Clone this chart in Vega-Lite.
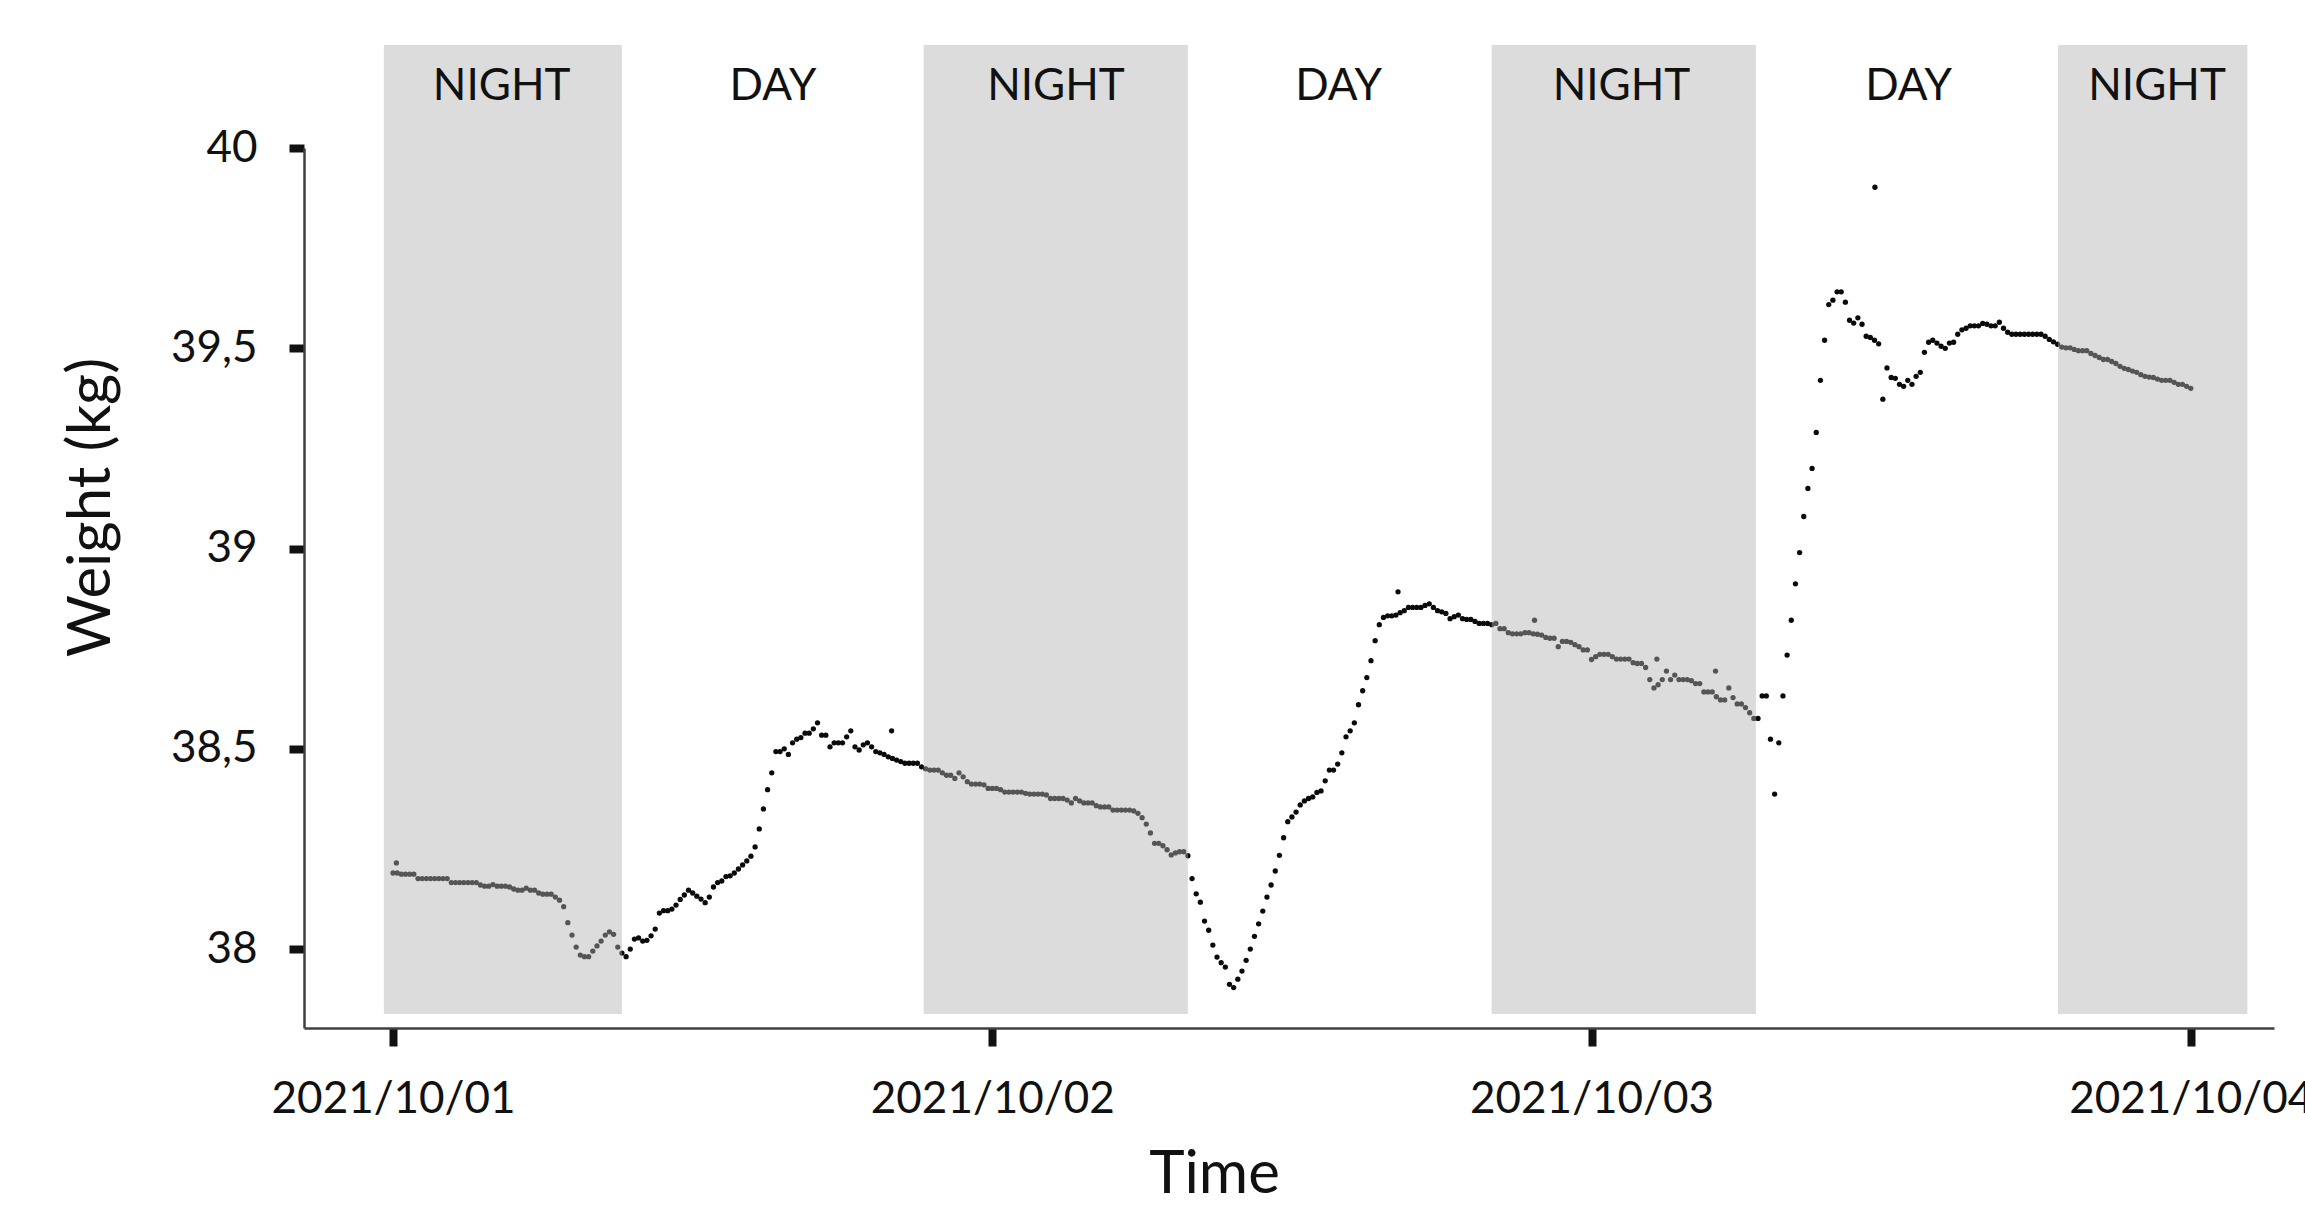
{
"$schema": "https://vega.github.io/schema/vega-lite/v6.json",
"width": 1970, "height": 880,
"autosize": {"type": "none"},
"padding": {"left": 304, "top": 148, "right": 31, "bottom": 178},
"background": "white",
"config": {"view": {"stroke": null}, "font": "Lato"},
"datasets": {
"bands": [
{"start":"2021-09-30T23:38","end":"2021-10-01T09:10"},
{"start":"2021-10-01T21:15","end":"2021-10-02T07:50"},
{"start":"2021-10-02T20:00","end":"2021-10-03T06:35"},
{"start":"2021-10-03T18:41","end":"2021-10-04T02:16"}
],
"labels": [
{"time":"2021-10-01T04:21","label":"NIGHT"},
{"time":"2021-10-01T15:13","label":"DAY"},
{"time":"2021-10-02T02:33","label":"NIGHT"},
{"time":"2021-10-02T13:52","label":"DAY"},
{"time":"2021-10-03T01:12","label":"NIGHT"},
{"time":"2021-10-03T12:42","label":"DAY"},
{"time":"2021-10-03T22:39","label":"NIGHT"}
],
"series": [
{"time":"2021-10-01T00:00","weight":38.19},
{"time":"2021-10-01T00:08","weight":38.215},
{"time":"2021-10-01T00:10","weight":38.19},
{"time":"2021-10-01T00:20","weight":38.187},
{"time":"2021-10-01T00:30","weight":38.187},
{"time":"2021-10-01T00:40","weight":38.187},
{"time":"2021-10-01T00:50","weight":38.187},
{"time":"2021-10-01T01:00","weight":38.176},
{"time":"2021-10-01T01:10","weight":38.176},
{"time":"2021-10-01T01:20","weight":38.176},
{"time":"2021-10-01T01:30","weight":38.176},
{"time":"2021-10-01T01:40","weight":38.176},
{"time":"2021-10-01T01:50","weight":38.176},
{"time":"2021-10-01T02:00","weight":38.176},
{"time":"2021-10-01T02:10","weight":38.176},
{"time":"2021-10-01T02:20","weight":38.166},
{"time":"2021-10-01T02:30","weight":38.166},
{"time":"2021-10-01T02:40","weight":38.166},
{"time":"2021-10-01T02:50","weight":38.166},
{"time":"2021-10-01T03:00","weight":38.166},
{"time":"2021-10-01T03:10","weight":38.166},
{"time":"2021-10-01T03:20","weight":38.166},
{"time":"2021-10-01T03:30","weight":38.16},
{"time":"2021-10-01T03:40","weight":38.157},
{"time":"2021-10-01T03:50","weight":38.157},
{"time":"2021-10-01T04:00","weight":38.161},
{"time":"2021-10-01T04:10","weight":38.157},
{"time":"2021-10-01T04:20","weight":38.157},
{"time":"2021-10-01T04:30","weight":38.157},
{"time":"2021-10-01T04:40","weight":38.155},
{"time":"2021-10-01T04:50","weight":38.15},
{"time":"2021-10-01T05:00","weight":38.147},
{"time":"2021-10-01T05:10","weight":38.147},
{"time":"2021-10-01T05:20","weight":38.152},
{"time":"2021-10-01T05:30","weight":38.147},
{"time":"2021-10-01T05:40","weight":38.147},
{"time":"2021-10-01T05:50","weight":38.14},
{"time":"2021-10-01T06:00","weight":38.137},
{"time":"2021-10-01T06:10","weight":38.137},
{"time":"2021-10-01T06:20","weight":38.137},
{"time":"2021-10-01T06:30","weight":38.13},
{"time":"2021-10-01T06:40","weight":38.122},
{"time":"2021-10-01T06:50","weight":38.106},
{"time":"2021-10-01T07:00","weight":38.066},
{"time":"2021-10-01T07:10","weight":38.035},
{"time":"2021-10-01T07:20","weight":38.005},
{"time":"2021-10-01T07:30","weight":37.985},
{"time":"2021-10-01T07:40","weight":37.981},
{"time":"2021-10-01T07:50","weight":37.981},
{"time":"2021-10-01T08:00","weight":37.995},
{"time":"2021-10-01T08:10","weight":38.008},
{"time":"2021-10-01T08:20","weight":38.02},
{"time":"2021-10-01T08:30","weight":38.035},
{"time":"2021-10-01T08:40","weight":38.043},
{"time":"2021-10-01T08:50","weight":38.037},
{"time":"2021-10-01T09:00","weight":38.005},
{"time":"2021-10-01T09:10","weight":37.99},
{"time":"2021-10-01T09:20","weight":37.981},
{"time":"2021-10-01T09:30","weight":38.0},
{"time":"2021-10-01T09:40","weight":38.025},
{"time":"2021-10-01T09:50","weight":38.028},
{"time":"2021-10-01T10:00","weight":38.02},
{"time":"2021-10-01T10:10","weight":38.022},
{"time":"2021-10-01T10:20","weight":38.033},
{"time":"2021-10-01T10:30","weight":38.05},
{"time":"2021-10-01T10:40","weight":38.09},
{"time":"2021-10-01T10:50","weight":38.096},
{"time":"2021-10-01T11:00","weight":38.096},
{"time":"2021-10-01T11:10","weight":38.1},
{"time":"2021-10-01T11:20","weight":38.11},
{"time":"2021-10-01T11:30","weight":38.124},
{"time":"2021-10-01T11:40","weight":38.135},
{"time":"2021-10-01T11:50","weight":38.147},
{"time":"2021-10-01T12:00","weight":38.14},
{"time":"2021-10-01T12:10","weight":38.132},
{"time":"2021-10-01T12:20","weight":38.125},
{"time":"2021-10-01T12:30","weight":38.116},
{"time":"2021-10-01T12:40","weight":38.13},
{"time":"2021-10-01T12:50","weight":38.155},
{"time":"2021-10-01T13:00","weight":38.166},
{"time":"2021-10-01T13:10","weight":38.17},
{"time":"2021-10-01T13:20","weight":38.181},
{"time":"2021-10-01T13:30","weight":38.183},
{"time":"2021-10-01T13:40","weight":38.19},
{"time":"2021-10-01T13:50","weight":38.2},
{"time":"2021-10-01T14:00","weight":38.21},
{"time":"2021-10-01T14:10","weight":38.22},
{"time":"2021-10-01T14:20","weight":38.232},
{"time":"2021-10-01T14:30","weight":38.255},
{"time":"2021-10-01T14:40","weight":38.3},
{"time":"2021-10-01T14:50","weight":38.35},
{"time":"2021-10-01T15:00","weight":38.398},
{"time":"2021-10-01T15:10","weight":38.44},
{"time":"2021-10-01T15:20","weight":38.493},
{"time":"2021-10-01T15:30","weight":38.493},
{"time":"2021-10-01T15:40","weight":38.5},
{"time":"2021-10-01T15:50","weight":38.486},
{"time":"2021-10-01T16:00","weight":38.515},
{"time":"2021-10-01T16:10","weight":38.524},
{"time":"2021-10-01T16:20","weight":38.528},
{"time":"2021-10-01T16:30","weight":38.539},
{"time":"2021-10-01T16:40","weight":38.539},
{"time":"2021-10-01T16:50","weight":38.55},
{"time":"2021-10-01T17:00","weight":38.565},
{"time":"2021-10-01T17:10","weight":38.534},
{"time":"2021-10-01T17:20","weight":38.534},
{"time":"2021-10-01T17:30","weight":38.505},
{"time":"2021-10-01T17:40","weight":38.515},
{"time":"2021-10-01T17:50","weight":38.515},
{"time":"2021-10-01T18:00","weight":38.515},
{"time":"2021-10-01T18:10","weight":38.53},
{"time":"2021-10-01T18:20","weight":38.545},
{"time":"2021-10-01T18:30","weight":38.505},
{"time":"2021-10-01T18:40","weight":38.497},
{"time":"2021-10-01T18:50","weight":38.51},
{"time":"2021-10-01T19:00","weight":38.515},
{"time":"2021-10-01T19:10","weight":38.505},
{"time":"2021-10-01T19:20","weight":38.493},
{"time":"2021-10-01T19:30","weight":38.49},
{"time":"2021-10-01T19:40","weight":38.486},
{"time":"2021-10-01T19:50","weight":38.48},
{"time":"2021-10-01T19:58","weight":38.545},
{"time":"2021-10-01T20:00","weight":38.476},
{"time":"2021-10-01T20:10","weight":38.472},
{"time":"2021-10-01T20:20","weight":38.468},
{"time":"2021-10-01T20:30","weight":38.464},
{"time":"2021-10-01T20:40","weight":38.464},
{"time":"2021-10-01T20:50","weight":38.464},
{"time":"2021-10-01T21:00","weight":38.464},
{"time":"2021-10-01T21:10","weight":38.455},
{"time":"2021-10-01T21:20","weight":38.45},
{"time":"2021-10-01T21:30","weight":38.447},
{"time":"2021-10-01T21:40","weight":38.447},
{"time":"2021-10-01T21:50","weight":38.447},
{"time":"2021-10-01T22:00","weight":38.44},
{"time":"2021-10-01T22:10","weight":38.434},
{"time":"2021-10-01T22:20","weight":38.434},
{"time":"2021-10-01T22:30","weight":38.426},
{"time":"2021-10-01T22:40","weight":38.44},
{"time":"2021-10-01T22:50","weight":38.43},
{"time":"2021-10-01T23:00","weight":38.418},
{"time":"2021-10-01T23:10","weight":38.412},
{"time":"2021-10-01T23:20","weight":38.412},
{"time":"2021-10-01T23:30","weight":38.412},
{"time":"2021-10-01T23:40","weight":38.41},
{"time":"2021-10-01T23:50","weight":38.401},
{"time":"2021-10-02T00:00","weight":38.401},
{"time":"2021-10-02T00:10","weight":38.401},
{"time":"2021-10-02T00:20","weight":38.398},
{"time":"2021-10-02T00:30","weight":38.392},
{"time":"2021-10-02T00:40","weight":38.392},
{"time":"2021-10-02T00:50","weight":38.392},
{"time":"2021-10-02T01:00","weight":38.392},
{"time":"2021-10-02T01:10","weight":38.392},
{"time":"2021-10-02T01:20","weight":38.389},
{"time":"2021-10-02T01:30","weight":38.387},
{"time":"2021-10-02T01:40","weight":38.387},
{"time":"2021-10-02T01:50","weight":38.387},
{"time":"2021-10-02T02:00","weight":38.387},
{"time":"2021-10-02T02:10","weight":38.385},
{"time":"2021-10-02T02:20","weight":38.376},
{"time":"2021-10-02T02:30","weight":38.376},
{"time":"2021-10-02T02:40","weight":38.376},
{"time":"2021-10-02T02:50","weight":38.376},
{"time":"2021-10-02T03:00","weight":38.372},
{"time":"2021-10-02T03:10","weight":38.365},
{"time":"2021-10-02T03:20","weight":38.376},
{"time":"2021-10-02T03:30","weight":38.37},
{"time":"2021-10-02T03:40","weight":38.365},
{"time":"2021-10-02T03:50","weight":38.365},
{"time":"2021-10-02T04:00","weight":38.365},
{"time":"2021-10-02T04:10","weight":38.358},
{"time":"2021-10-02T04:20","weight":38.355},
{"time":"2021-10-02T04:30","weight":38.355},
{"time":"2021-10-02T04:40","weight":38.355},
{"time":"2021-10-02T04:50","weight":38.347},
{"time":"2021-10-02T05:00","weight":38.347},
{"time":"2021-10-02T05:10","weight":38.347},
{"time":"2021-10-02T05:20","weight":38.347},
{"time":"2021-10-02T05:30","weight":38.347},
{"time":"2021-10-02T05:40","weight":38.345},
{"time":"2021-10-02T05:50","weight":38.339},
{"time":"2021-10-02T06:00","weight":38.328},
{"time":"2021-10-02T06:10","weight":38.312},
{"time":"2021-10-02T06:20","weight":38.29},
{"time":"2021-10-02T06:30","weight":38.264},
{"time":"2021-10-02T06:40","weight":38.264},
{"time":"2021-10-02T06:50","weight":38.258},
{"time":"2021-10-02T07:00","weight":38.248},
{"time":"2021-10-02T07:10","weight":38.235},
{"time":"2021-10-02T07:20","weight":38.24},
{"time":"2021-10-02T07:30","weight":38.243},
{"time":"2021-10-02T07:40","weight":38.243},
{"time":"2021-10-02T07:50","weight":38.233},
{"time":"2021-10-02T08:00","weight":38.176},
{"time":"2021-10-02T08:10","weight":38.138},
{"time":"2021-10-02T08:20","weight":38.117},
{"time":"2021-10-02T08:30","weight":38.07},
{"time":"2021-10-02T08:40","weight":38.047},
{"time":"2021-10-02T08:50","weight":38.01},
{"time":"2021-10-02T09:00","weight":37.98},
{"time":"2021-10-02T09:10","weight":37.966},
{"time":"2021-10-02T09:20","weight":37.955},
{"time":"2021-10-02T09:30","weight":37.912},
{"time":"2021-10-02T09:40","weight":37.904},
{"time":"2021-10-02T09:50","weight":37.925},
{"time":"2021-10-02T10:00","weight":37.945},
{"time":"2021-10-02T10:10","weight":37.972},
{"time":"2021-10-02T10:20","weight":38.0},
{"time":"2021-10-02T10:30","weight":38.032},
{"time":"2021-10-02T10:40","weight":38.063},
{"time":"2021-10-02T10:50","weight":38.095},
{"time":"2021-10-02T11:00","weight":38.13},
{"time":"2021-10-02T11:10","weight":38.16},
{"time":"2021-10-02T11:20","weight":38.195},
{"time":"2021-10-02T11:30","weight":38.234},
{"time":"2021-10-02T11:40","weight":38.278},
{"time":"2021-10-02T11:50","weight":38.318},
{"time":"2021-10-02T12:00","weight":38.33},
{"time":"2021-10-02T12:10","weight":38.342},
{"time":"2021-10-02T12:20","weight":38.36},
{"time":"2021-10-02T12:30","weight":38.37},
{"time":"2021-10-02T12:40","weight":38.376},
{"time":"2021-10-02T12:50","weight":38.38},
{"time":"2021-10-02T13:00","weight":38.391},
{"time":"2021-10-02T13:10","weight":38.395},
{"time":"2021-10-02T13:20","weight":38.42},
{"time":"2021-10-02T13:30","weight":38.447},
{"time":"2021-10-02T13:40","weight":38.447},
{"time":"2021-10-02T13:50","weight":38.462},
{"time":"2021-10-02T14:00","weight":38.49},
{"time":"2021-10-02T14:10","weight":38.53},
{"time":"2021-10-02T14:20","weight":38.545},
{"time":"2021-10-02T14:30","weight":38.565},
{"time":"2021-10-02T14:40","weight":38.61},
{"time":"2021-10-02T14:50","weight":38.645},
{"time":"2021-10-02T15:00","weight":38.678},
{"time":"2021-10-02T15:10","weight":38.72},
{"time":"2021-10-02T15:20","weight":38.77},
{"time":"2021-10-02T15:30","weight":38.81},
{"time":"2021-10-02T15:40","weight":38.828},
{"time":"2021-10-02T15:50","weight":38.832},
{"time":"2021-10-02T16:00","weight":38.832},
{"time":"2021-10-02T16:10","weight":38.834},
{"time":"2021-10-02T16:15","weight":38.892},
{"time":"2021-10-02T16:20","weight":38.84},
{"time":"2021-10-02T16:30","weight":38.845},
{"time":"2021-10-02T16:40","weight":38.853},
{"time":"2021-10-02T16:50","weight":38.853},
{"time":"2021-10-02T17:00","weight":38.853},
{"time":"2021-10-02T17:10","weight":38.853},
{"time":"2021-10-02T17:20","weight":38.858},
{"time":"2021-10-02T17:30","weight":38.862},
{"time":"2021-10-02T17:40","weight":38.853},
{"time":"2021-10-02T17:50","weight":38.845},
{"time":"2021-10-02T18:00","weight":38.842},
{"time":"2021-10-02T18:10","weight":38.838},
{"time":"2021-10-02T18:20","weight":38.825},
{"time":"2021-10-02T18:30","weight":38.83},
{"time":"2021-10-02T18:40","weight":38.834},
{"time":"2021-10-02T18:50","weight":38.825},
{"time":"2021-10-02T19:00","weight":38.823},
{"time":"2021-10-02T19:10","weight":38.823},
{"time":"2021-10-02T19:20","weight":38.818},
{"time":"2021-10-02T19:30","weight":38.813},
{"time":"2021-10-02T19:40","weight":38.813},
{"time":"2021-10-02T19:50","weight":38.813},
{"time":"2021-10-02T20:00","weight":38.81},
{"time":"2021-10-02T20:10","weight":38.813},
{"time":"2021-10-02T20:20","weight":38.8},
{"time":"2021-10-02T20:30","weight":38.8},
{"time":"2021-10-02T20:40","weight":38.79},
{"time":"2021-10-02T20:50","weight":38.787},
{"time":"2021-10-02T21:00","weight":38.787},
{"time":"2021-10-02T21:10","weight":38.787},
{"time":"2021-10-02T21:20","weight":38.79},
{"time":"2021-10-02T21:30","weight":38.79},
{"time":"2021-10-02T21:40","weight":38.787},
{"time":"2021-10-02T21:43","weight":38.821},
{"time":"2021-10-02T21:50","weight":38.786},
{"time":"2021-10-02T22:00","weight":38.784},
{"time":"2021-10-02T22:10","weight":38.778},
{"time":"2021-10-02T22:20","weight":38.776},
{"time":"2021-10-02T22:30","weight":38.776},
{"time":"2021-10-02T22:40","weight":38.755},
{"time":"2021-10-02T22:50","weight":38.768},
{"time":"2021-10-02T23:00","weight":38.768},
{"time":"2021-10-02T23:10","weight":38.766},
{"time":"2021-10-02T23:20","weight":38.76},
{"time":"2021-10-02T23:30","weight":38.755},
{"time":"2021-10-02T23:40","weight":38.747},
{"time":"2021-10-02T23:50","weight":38.747},
{"time":"2021-10-03T00:00","weight":38.723},
{"time":"2021-10-03T00:10","weight":38.73},
{"time":"2021-10-03T00:20","weight":38.736},
{"time":"2021-10-03T00:30","weight":38.736},
{"time":"2021-10-03T00:40","weight":38.736},
{"time":"2021-10-03T00:50","weight":38.73},
{"time":"2021-10-03T01:00","weight":38.724},
{"time":"2021-10-03T01:10","weight":38.724},
{"time":"2021-10-03T01:20","weight":38.724},
{"time":"2021-10-03T01:30","weight":38.724},
{"time":"2021-10-03T01:40","weight":38.715},
{"time":"2021-10-03T01:50","weight":38.713},
{"time":"2021-10-03T02:00","weight":38.713},
{"time":"2021-10-03T02:10","weight":38.703},
{"time":"2021-10-03T02:20","weight":38.673},
{"time":"2021-10-03T02:30","weight":38.652},
{"time":"2021-10-03T02:37","weight":38.724},
{"time":"2021-10-03T02:40","weight":38.66},
{"time":"2021-10-03T02:50","weight":38.673},
{"time":"2021-10-03T03:00","weight":38.694},
{"time":"2021-10-03T03:10","weight":38.673},
{"time":"2021-10-03T03:20","weight":38.684},
{"time":"2021-10-03T03:30","weight":38.673},
{"time":"2021-10-03T03:40","weight":38.673},
{"time":"2021-10-03T03:50","weight":38.673},
{"time":"2021-10-03T04:00","weight":38.67},
{"time":"2021-10-03T04:10","weight":38.663},
{"time":"2021-10-03T04:20","weight":38.663},
{"time":"2021-10-03T04:30","weight":38.642},
{"time":"2021-10-03T04:40","weight":38.642},
{"time":"2021-10-03T04:50","weight":38.642},
{"time":"2021-10-03T04:58","weight":38.694},
{"time":"2021-10-03T05:00","weight":38.63},
{"time":"2021-10-03T05:10","weight":38.622},
{"time":"2021-10-03T05:20","weight":38.622},
{"time":"2021-10-03T05:30","weight":38.652},
{"time":"2021-10-03T05:40","weight":38.628},
{"time":"2021-10-03T05:50","weight":38.612},
{"time":"2021-10-03T06:00","weight":38.612},
{"time":"2021-10-03T06:10","weight":38.603},
{"time":"2021-10-03T06:20","weight":38.59},
{"time":"2021-10-03T06:30","weight":38.576},
{"time":"2021-10-03T06:40","weight":38.576},
{"time":"2021-10-03T06:50","weight":38.632},
{"time":"2021-10-03T07:00","weight":38.632},
{"time":"2021-10-03T07:10","weight":38.524},
{"time":"2021-10-03T07:20","weight":38.387},
{"time":"2021-10-03T07:30","weight":38.515},
{"time":"2021-10-03T07:40","weight":38.632},
{"time":"2021-10-03T07:50","weight":38.734},
{"time":"2021-10-03T08:00","weight":38.821},
{"time":"2021-10-03T08:10","weight":38.912},
{"time":"2021-10-03T08:20","weight":38.99},
{"time":"2021-10-03T08:30","weight":39.08},
{"time":"2021-10-03T08:40","weight":39.15},
{"time":"2021-10-03T08:50","weight":39.2},
{"time":"2021-10-03T09:00","weight":39.29},
{"time":"2021-10-03T09:10","weight":39.42},
{"time":"2021-10-03T09:20","weight":39.52},
{"time":"2021-10-03T09:30","weight":39.609},
{"time":"2021-10-03T09:40","weight":39.62},
{"time":"2021-10-03T09:50","weight":39.641},
{"time":"2021-10-03T10:00","weight":39.641},
{"time":"2021-10-03T10:10","weight":39.615},
{"time":"2021-10-03T10:20","weight":39.57},
{"time":"2021-10-03T10:30","weight":39.563},
{"time":"2021-10-03T10:40","weight":39.576},
{"time":"2021-10-03T10:50","weight":39.56},
{"time":"2021-10-03T11:00","weight":39.53},
{"time":"2021-10-03T11:10","weight":39.527},
{"time":"2021-10-03T11:20","weight":39.52},
{"time":"2021-10-03T11:21","weight":39.902},
{"time":"2021-10-03T11:30","weight":39.511},
{"time":"2021-10-03T11:40","weight":39.373},
{"time":"2021-10-03T11:50","weight":39.451},
{"time":"2021-10-03T12:00","weight":39.427},
{"time":"2021-10-03T12:10","weight":39.425},
{"time":"2021-10-03T12:20","weight":39.41},
{"time":"2021-10-03T12:30","weight":39.405},
{"time":"2021-10-03T12:40","weight":39.42},
{"time":"2021-10-03T12:50","weight":39.41},
{"time":"2021-10-03T13:00","weight":39.43},
{"time":"2021-10-03T13:10","weight":39.44},
{"time":"2021-10-03T13:20","weight":39.49},
{"time":"2021-10-03T13:30","weight":39.515},
{"time":"2021-10-03T13:40","weight":39.52},
{"time":"2021-10-03T13:50","weight":39.513},
{"time":"2021-10-03T14:00","weight":39.505},
{"time":"2021-10-03T14:10","weight":39.5},
{"time":"2021-10-03T14:20","weight":39.513},
{"time":"2021-10-03T14:30","weight":39.515},
{"time":"2021-10-03T14:40","weight":39.535},
{"time":"2021-10-03T14:50","weight":39.546},
{"time":"2021-10-03T15:00","weight":39.55},
{"time":"2021-10-03T15:10","weight":39.556},
{"time":"2021-10-03T15:20","weight":39.556},
{"time":"2021-10-03T15:30","weight":39.556},
{"time":"2021-10-03T15:40","weight":39.562},
{"time":"2021-10-03T15:50","weight":39.56},
{"time":"2021-10-03T16:00","weight":39.556},
{"time":"2021-10-03T16:10","weight":39.556},
{"time":"2021-10-03T16:20","weight":39.565},
{"time":"2021-10-03T16:30","weight":39.55},
{"time":"2021-10-03T16:40","weight":39.54},
{"time":"2021-10-03T16:50","weight":39.535},
{"time":"2021-10-03T17:00","weight":39.535},
{"time":"2021-10-03T17:10","weight":39.535},
{"time":"2021-10-03T17:20","weight":39.535},
{"time":"2021-10-03T17:30","weight":39.535},
{"time":"2021-10-03T17:40","weight":39.535},
{"time":"2021-10-03T17:50","weight":39.535},
{"time":"2021-10-03T18:00","weight":39.535},
{"time":"2021-10-03T18:10","weight":39.53},
{"time":"2021-10-03T18:20","weight":39.522},
{"time":"2021-10-03T18:30","weight":39.516},
{"time":"2021-10-03T18:40","weight":39.51},
{"time":"2021-10-03T18:50","weight":39.503},
{"time":"2021-10-03T19:00","weight":39.501},
{"time":"2021-10-03T19:10","weight":39.501},
{"time":"2021-10-03T19:20","weight":39.497},
{"time":"2021-10-03T19:30","weight":39.494},
{"time":"2021-10-03T19:40","weight":39.494},
{"time":"2021-10-03T19:50","weight":39.494},
{"time":"2021-10-03T20:00","weight":39.487},
{"time":"2021-10-03T20:10","weight":39.482},
{"time":"2021-10-03T20:20","weight":39.477},
{"time":"2021-10-03T20:30","weight":39.472},
{"time":"2021-10-03T20:40","weight":39.472},
{"time":"2021-10-03T20:50","weight":39.467},
{"time":"2021-10-03T21:00","weight":39.462},
{"time":"2021-10-03T21:10","weight":39.455},
{"time":"2021-10-03T21:20","weight":39.45},
{"time":"2021-10-03T21:30","weight":39.447},
{"time":"2021-10-03T21:40","weight":39.443},
{"time":"2021-10-03T21:50","weight":39.44},
{"time":"2021-10-03T22:00","weight":39.434},
{"time":"2021-10-03T22:10","weight":39.43},
{"time":"2021-10-03T22:20","weight":39.428},
{"time":"2021-10-03T22:30","weight":39.427},
{"time":"2021-10-03T22:40","weight":39.423},
{"time":"2021-10-03T22:50","weight":39.42},
{"time":"2021-10-03T23:00","weight":39.42},
{"time":"2021-10-03T23:10","weight":39.42},
{"time":"2021-10-03T23:20","weight":39.415},
{"time":"2021-10-03T23:30","weight":39.41},
{"time":"2021-10-03T23:40","weight":39.41},
{"time":"2021-10-03T23:50","weight":39.405},
{"time":"2021-10-04T00:00","weight":39.4}
]
},
"layer": [
{
"data": {"name": "series"},
"mark": {"type": "circle", "size": 28, "color": "#0a0a0a", "opacity": 1},
"encoding": {
"x": {"field": "time", "type": "temporal", "title": "Time",
"scale": {"domain": [{"year": 2021, "month": 9, "date": 30, "hours": 20, "minutes": 26}, {"year": 2021, "month": 10, "date": 4, "hours": 3, "minutes": 20}], "nice": false},
"axis": {"values": [{"year": 2021, "month": 10, "date": 1}, {"year": 2021, "month": 10, "date": 2}, {"year": 2021, "month": 10, "date": 3}, {"year": 2021, "month": 10, "date": 4}],
"labelExpr": "timeFormat(datum.value, '%Y/%m/%d')",
"grid": false, "labelFont": "Lato", "labelFontSize": 44, "labelColor": "#111111", "labelBaseline": "alphabetic", "labelPadding": 66, "labelFlush": false, "labelOverlap": false, "labelBound": false, "labelLimit": 0,
"tickSize": 18, "tickWidth": 8, "tickColor": "#111111", "domainColor": "#404040", "domainWidth": 2.5,
"titleFont": "Lato", "titleFontSize": 60, "titleFontWeight": "normal", "titleColor": "#111111", "titleX": 910, "titleY": 164, "titleAlign": "center", "titleBaseline": "alphabetic"}},
"y": {"field": "weight", "type": "quantitative", "title": "Weight (kg)",
"scale": {"domain": [37.803, 40], "nice": false, "zero": false},
"axis": {"values": [38, 38.5, 39, 39.5, 40], "labelExpr": "replace(format(datum.value, '~g'), '.', ',')",
"grid": false, "labelFont": "Lato", "labelFontSize": 44, "labelColor": "#111111", "labelBaseline": "middle", "labelPadding": 32, "labelOverlap": false, "labelBound": false, "labelFlush": false, "labelLimit": 0,
"tickSize": 15, "tickWidth": 8, "tickColor": "#111111", "domainColor": "#404040", "domainWidth": 2.5,
"titleFont": "Lato", "titleFontSize": 60, "titleFontWeight": "normal", "titleColor": "#111111", "titleX": -195, "titleY": 359, "titleAngle": 270, "titleAlign": "center", "titleBaseline": "alphabetic"}}
}
},
{
"data": {"name": "bands"},
"mark": {"type": "rect", "color": "#b1b1b1", "opacity": 0.45},
"encoding": {
"x": {"field": "start", "type": "temporal", "title": "Time"},
"x2": {"field": "end"},
"y": {"datum": 37.838, "type": "quantitative", "title": "Weight (kg)"},
"y2": {"datum": 40.257}
}
},
{
"data": {"name": "labels"},
"mark": {"type": "text", "font": "Lato", "fontSize": 44, "color": "#111111", "baseline": "alphabetic", "align": "center"},
"encoding": {
"x": {"field": "time", "type": "temporal", "title": "Time"},
"y": {"datum": 40.12, "type": "quantitative", "title": "Weight (kg)"},
"text": {"field": "label"}
}
}
]
}
